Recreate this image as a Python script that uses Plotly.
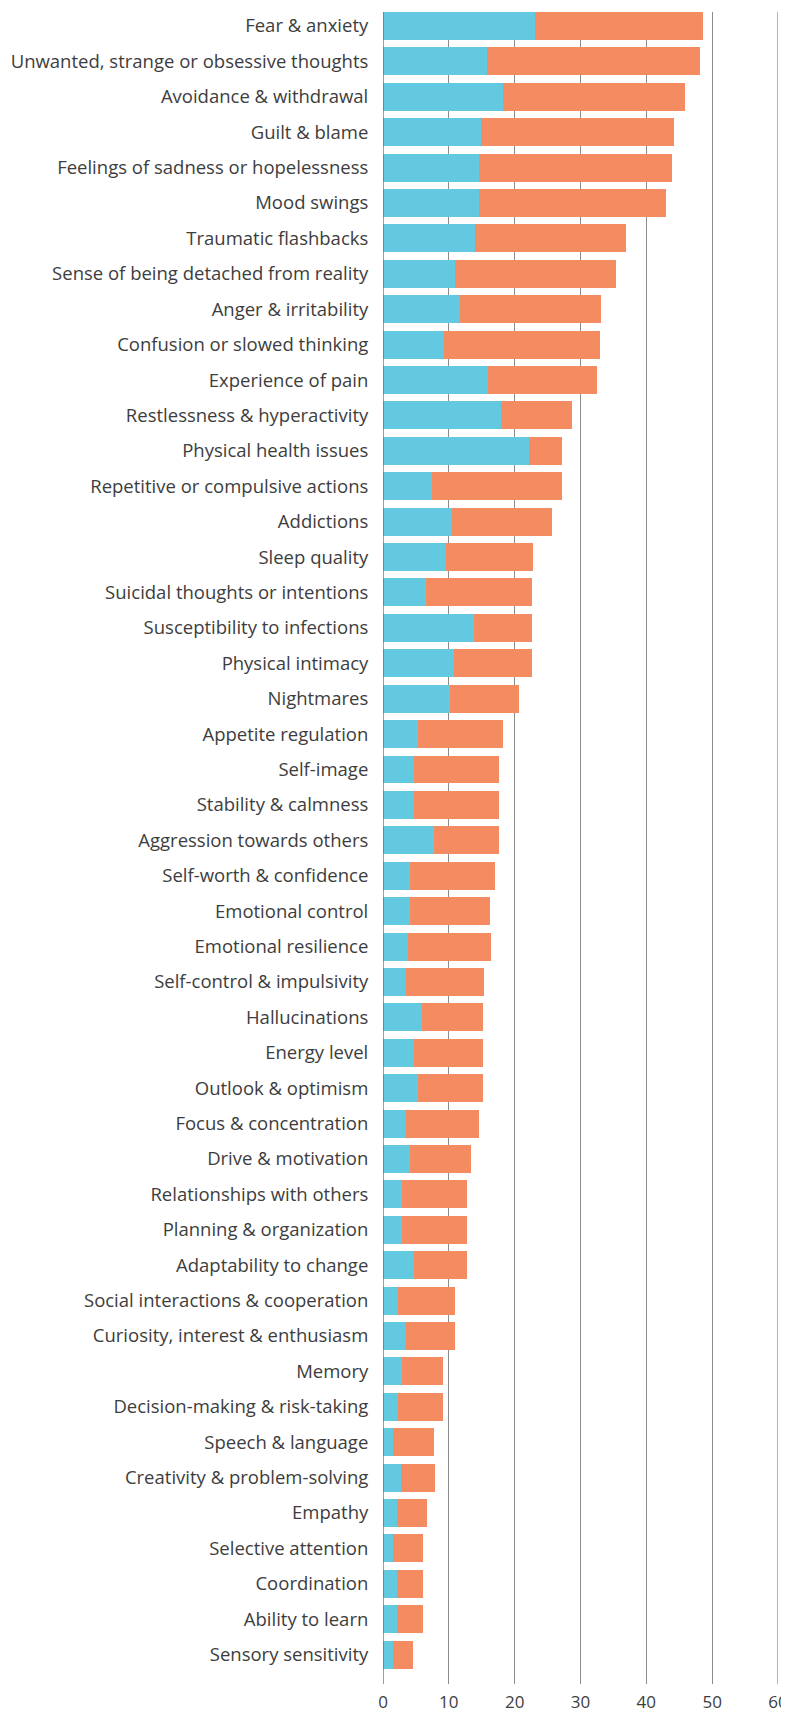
import plotly.graph_objects as go

categories = [
    "Fear & anxiety",
    "Unwanted, strange or obsessive thoughts",
    "Avoidance & withdrawal",
    "Guilt & blame",
    "Feelings of sadness or hopelessness",
    "Mood swings",
    "Traumatic flashbacks",
    "Sense of being detached from reality",
    "Anger & irritability",
    "Confusion or slowed thinking",
    "Experience of pain",
    "Restlessness & hyperactivity",
    "Physical health issues",
    "Repetitive or compulsive actions",
    "Addictions",
    "Sleep quality",
    "Suicidal thoughts or intentions",
    "Susceptibility to infections",
    "Physical intimacy",
    "Nightmares",
    "Appetite regulation",
    "Self-image",
    "Stability & calmness",
    "Aggression towards others",
    "Self-worth & confidence",
    "Emotional control",
    "Emotional resilience",
    "Self-control & impulsivity",
    "Hallucinations",
    "Energy level",
    "Outlook & optimism",
    "Focus & concentration",
    "Drive & motivation",
    "Relationships with others",
    "Planning & organization",
    "Adaptability to change",
    "Social interactions & cooperation",
    "Curiosity, interest & enthusiasm",
    "Memory",
    "Decision-making & risk-taking",
    "Speech & language",
    "Creativity & problem-solving",
    "Empathy",
    "Selective attention",
    "Coordination",
    "Ability to learn",
    "Sensory sensitivity",
]

blue_values = [
    23.15, 15.86, 18.29, 14.84, 14.64, 14.64, 14.03, 10.89, 11.66, 9.23,
    15.92, 17.85, 22.11, 7.40, 10.45, 9.53, 6.49, 13.89, 10.75, 10.14,
    5.27, 4.67, 4.67, 7.71, 4.06, 4.06, 3.85, 3.45, 5.88, 4.67,
    5.27, 3.45, 4.06, 2.84, 2.84, 4.67, 2.23, 3.45, 2.84, 2.23,
    1.57, 2.79, 2.18, 1.57, 2.18, 2.18, 1.57,
]

total_values = [
    48.58, 48.13, 45.85, 44.17, 43.97, 43.06, 36.98, 35.46, 33.11, 32.96,
    32.51, 28.70, 27.18, 27.18, 25.66, 22.77, 22.62, 22.62, 22.62, 20.64,
    18.20, 17.60, 17.60, 17.60, 16.99, 16.23, 16.38, 15.31, 15.16, 15.16,
    15.16, 14.55, 13.34, 12.73, 12.73, 12.73, 10.90, 10.90, 9.08, 9.08,
    7.70, 7.85, 6.64, 6.03, 6.03, 6.03, 4.51,
]

orange_values = [round(t - b, 2) for t, b in zip(total_values, blue_values)]

x_ticks = [0, 10, 20, 30, 40, 50, 60]
x_min, x_max = 0, 60

BLUE = "#63C9E1"
ORANGE = "#F48B61"
FONT = "Open Sans"
TEXT = "#3d3d3d"
GRID = "#8c8c8c"

fig = go.Figure()
fig.add_trace(go.Bar(
    y=categories, x=blue_values, orientation="h",
    marker=dict(color=BLUE, line=dict(width=0)), name="Series A",
))
fig.add_trace(go.Bar(
    y=categories, x=orange_values, orientation="h",
    marker=dict(color=ORANGE, line=dict(width=0)), name="Series B",
))

# the page body adds an 8px offset, so the figure is sized to fit the window
fig.update_layout(
    template="none",
    barmode="stack",
    bargap=0.21,
    width=781,
    height=1708,
    margin=dict(l=375, r=11, t=4, b=32, pad=0, autoexpand=False),
    paper_bgcolor="white",
    plot_bgcolor="white",
    showlegend=False,
    font=dict(family=FONT, size=16, color=TEXT),
)

fig.update_xaxes(
    automargin=False,
    range=[x_min, x_max],
    tickvals=x_ticks,
    ticktext=[str(v) for v in x_ticks],
    showgrid=True,
    gridcolor=GRID,
    gridwidth=1.3,
    zeroline=False,
    showline=False,
    ticks="",
    tickfont=dict(family=FONT, size=17, color=TEXT),
    ticklabelstandoff=6,
)

fig.update_yaxes(
    automargin=False,
    type="category",
    categoryorder="array",
    categoryarray=categories,
    range=[46.83, -0.395],
    showgrid=False,
    zeroline=False,
    showline=False,
    ticks="outside",
    ticklen=10,
    tickcolor="rgba(0,0,0,0)",
    tickfont=dict(family=FONT, size=18.5, color=TEXT),
)

# gridline at the far end of the axis (plotly drops gridlines on the plot edge)
fig.add_shape(type="line", xref="x", yref="paper", x0=x_max, x1=x_max, y0=0, y1=1,
              line=dict(color=GRID, width=1.3), layer="below")
# axis line at x = 0 spanning the plot height
fig.add_shape(type="line", xref="x", yref="paper", x0=x_min, x1=x_min, y0=0, y1=1,
              line=dict(color="#6a6a6a", width=1.3), layer="above")

fig.write_html("out.html")
